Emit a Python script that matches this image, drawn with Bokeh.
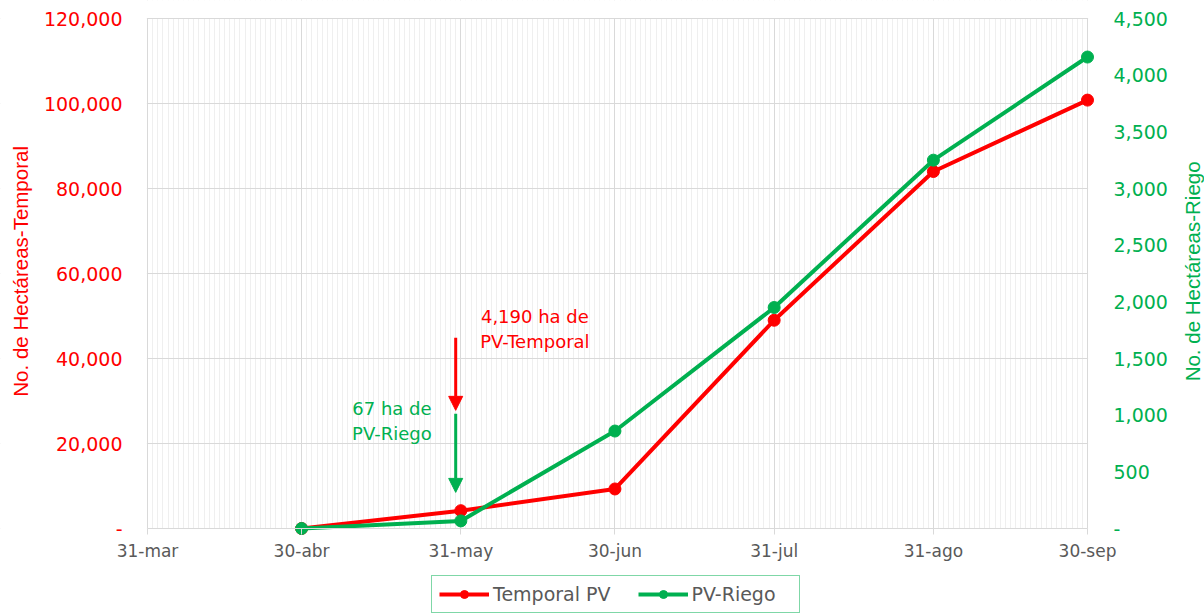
import math
import pandas as pd
from bokeh.plotting import figure
from bokeh.models import (Range1d, LinearAxis, FixedTicker, CustomJSTickFormatter,
                          Arrow, NormalHead, Label, Legend, LegendItem, BoxAnnotation)
from bokeh.embed import file_html
from bokeh.resources import INLINE

# ---- data ----
dates = ["2023-04-30", "2023-05-31", "2023-06-30", "2023-07-31", "2023-08-31", "2023-09-30"]
temporal_pv = [0, 4190, 9300, 49000, 84000, 100800]
pv_riego = [0, 67, 860, 1950, 3250, 4160]

month_ticks = ["2023-03-31", "2023-04-30", "2023-05-31", "2023-06-30",
               "2023-07-31", "2023-08-31", "2023-09-30"]
left_ticks = [0, 20000, 40000, 60000, 80000, 100000, 120000]
right_ticks = [0, 500, 1000, 1500, 2000, 2500, 3000, 3500, 4000, 4500]

RED = "#FF0000"
GREEN = "#00B050"
GRAY_TXT = "#595959"
FONT = "DejaVu Sans"
TITLE_FONT = "Liberation Sans"


def ms(s):
    return pd.Timestamp(s).value // 10**6


x_dates = pd.to_datetime(dates)
x_start, x_end = ms(month_ticks[0]), ms(month_ticks[-1])
day_ticks = [ms(d) for d in pd.date_range(month_ticks[0], month_ticks[-1], freq="D")]

# ---- layout (pixels) ----
W, H = 1204, 613
PLOT_L, PLOT_W = 147, 940      # plotting area inside the figure
PLOT_T, PLOT_H = 18, 510
span = x_end - x_start
ms_px = span / PLOT_W
y_px = 120000 / PLOT_H
r_px = 4500 / PLOT_H
below = H - PLOT_T - PLOT_H

# the frame fills the whole figure; the ranges reach past the data area so
# axes, labels and legend all sit inside the frame
p = figure(width=W, height=H, x_axis_type="datetime",
           x_range=Range1d(x_start - PLOT_L * ms_px, x_end + (W - PLOT_L - PLOT_W) * ms_px),
           y_range=Range1d(-below * y_px, 120000 + PLOT_T * y_px),
           output_backend="svg", toolbar_location=None,
           min_border_left=0, min_border_right=0, min_border_top=0,
           min_border_bottom=0)
p.outline_line_color = None
p.background_fill_color = "white"
p.border_fill_color = "white"

# x axis, drawn at y = 0
xt = FixedTicker(ticks=[ms(m) for m in month_ticks], minor_ticks=day_ticks)
p.xaxis.ticker = xt
p.xgrid.ticker = xt
p.xaxis.fixed_location = 0
p.xaxis.bounds = (x_start, x_end)
p.xaxis.formatter = CustomJSTickFormatter(code="""
const m = ['ene','feb','mar','abr','may','jun','jul','ago','sep','oct','nov','dic'];
const d = new Date(tick);
return d.getUTCDate() + '-' + m[d.getUTCMonth()];
""")
p.xaxis.axis_line_color = "#d9d9d9"
p.xaxis.major_tick_line_color = "#d9d9d9"
p.xaxis.major_tick_out = 6
p.xaxis.major_tick_in = 0
p.xaxis.minor_tick_out = 0
p.xaxis.minor_tick_in = 0
p.xaxis.minor_tick_line_color = None
p.xaxis.major_label_text_font = FONT
p.xaxis.major_label_text_font_size = "17px"
p.xaxis.major_label_text_color = GRAY_TXT
p.xaxis.major_label_standoff = 6

p.xgrid.grid_line_color = "#d9d9d9"
p.xgrid.minor_grid_line_color = "#efefef"
p.ygrid.grid_line_color = "#d9d9d9"

# white covers hide the grid outside the data area
for kw in [dict(top=0), dict(bottom=120000 + 0.6 * y_px),
           dict(right=x_start - 0.6 * ms_px), dict(left=x_end + 0.6 * ms_px)]:
    p.add_layout(BoxAnnotation(fill_color="white", fill_alpha=1, line_color=None,
                               level="underlay", **kw))

num_fmt = """
if (tick == 0) { return '-'; }
return String(Math.round(tick)).replace(/\\B(?=(\\d{3})+(?!\\d))/g, ',');
"""

# left y axis, drawn at 31-mar
p.yaxis.ticker = FixedTicker(ticks=left_ticks)
p.ygrid.ticker = FixedTicker(ticks=left_ticks)
p.yaxis.fixed_location = x_start
p.yaxis.bounds = (0, 120000)
p.yaxis.formatter = CustomJSTickFormatter(code=num_fmt)
p.yaxis.axis_line_color = None
p.yaxis.major_tick_line_color = None
p.yaxis.minor_tick_line_color = None
p.yaxis.major_tick_out = 0
p.yaxis.major_tick_in = 0
p.yaxis.minor_tick_out = 0
p.yaxis.minor_tick_in = 0
p.yaxis.major_label_standoff = 25
p.yaxis.major_label_text_font = FONT
p.yaxis.major_label_text_font_size = "19px"
p.yaxis.major_label_text_color = RED

# right y axis, drawn at 30-sep
p.extra_y_ranges = {"riego": Range1d(-below * r_px, 4500 + PLOT_T * r_px)}
ra = LinearAxis(y_range_name="riego", ticker=FixedTicker(ticks=right_ticks),
                formatter=CustomJSTickFormatter(code=num_fmt), bounds=(0, 4500),
                fixed_location=x_end)
ra.axis_line_color = None
ra.major_tick_line_color = None
ra.minor_tick_line_color = None
ra.major_tick_out = 0
ra.major_tick_in = 0
ra.minor_tick_out = 0
ra.minor_tick_in = 0
ra.major_label_standoff = 26
ra.major_label_text_font = FONT
ra.major_label_text_font_size = "19px"
ra.major_label_text_color = GREEN
p.add_layout(ra, "right")

# axis titles
p.add_layout(Label(x=x_start - 127 * ms_px, y=60500, text="No. de Hectáreas-Temporal",
                   angle=math.pi / 2, text_align="center", text_baseline="middle",
                   text_color=RED, text_font=TITLE_FONT, text_font_size="20.5px"))
p.add_layout(Label(x=x_end + 105 * ms_px, y=60500 * 4500 / 120000,
                   y_range_name="riego", text="No. de Hectáreas-Riego",
                   angle=math.pi / 2, text_align="center", text_baseline="middle",
                   text_color=GREEN, text_font=TITLE_FONT, text_font_size="20.5px"))

# series
r_line = p.line(x_dates, temporal_pv, line_color=RED, line_width=4)
r_pts = p.scatter(x_dates, temporal_pv, size=12, fill_color=RED, line_color=RED)
g_line = p.line(x_dates, pv_riego, line_color=GREEN, line_width=4, y_range_name="riego")
g_pts = p.scatter(x_dates, pv_riego, size=12, fill_color=GREEN, line_color=GREEN,
                  y_range_name="riego")

# annotations
arrow_x = ms("2023-05-30")
p.add_layout(Arrow(end=NormalHead(size=14, fill_color=RED, line_color=RED),
                   x_start=arrow_x, y_start=44900, x_end=arrow_x, y_end=27800,
                   line_color=RED, line_width=3))
p.add_layout(Arrow(end=NormalHead(size=14, fill_color=GREEN, line_color=GREEN),
                   x_start=arrow_x, y_start=27000, x_end=arrow_x, y_end=8500,
                   line_color=GREEN, line_width=3))

for txt, xs, yv, col in [("4,190 ha de", "2023-06-14 10:00", 49900, RED),
                         ("PV-Temporal", "2023-06-14 10:00", 44000, RED),
                         ("67 ha de", "2023-05-17 14:00", 28200, GREEN),
                         ("PV-Riego", "2023-05-17 14:00", 22350, GREEN)]:
    p.add_layout(Label(x=ms(xs), y=yv, text=txt, text_align="center",
                       text_baseline="middle", text_color=col,
                       text_font=FONT, text_font_size="18px"))

legend = Legend(items=[LegendItem(label="Temporal PV", renderers=[r_line, r_pts]),
                       LegendItem(label="PV-Riego", renderers=[g_line, g_pts])],
                location=(431, 0), orientation="horizontal",
                border_line_color=GREEN, border_line_width=1,
                label_text_font=FONT, label_text_font_size="19px",
                label_text_color=GRAY_TXT, glyph_width=50, glyph_height=20,
                label_height=20, label_standoff=4, spacing=27, padding=7,
                label_width=100, margin=0, background_fill_alpha=1)
p.add_layout(legend, "center")

open("out.html", "w").write(file_html(p, INLINE))
